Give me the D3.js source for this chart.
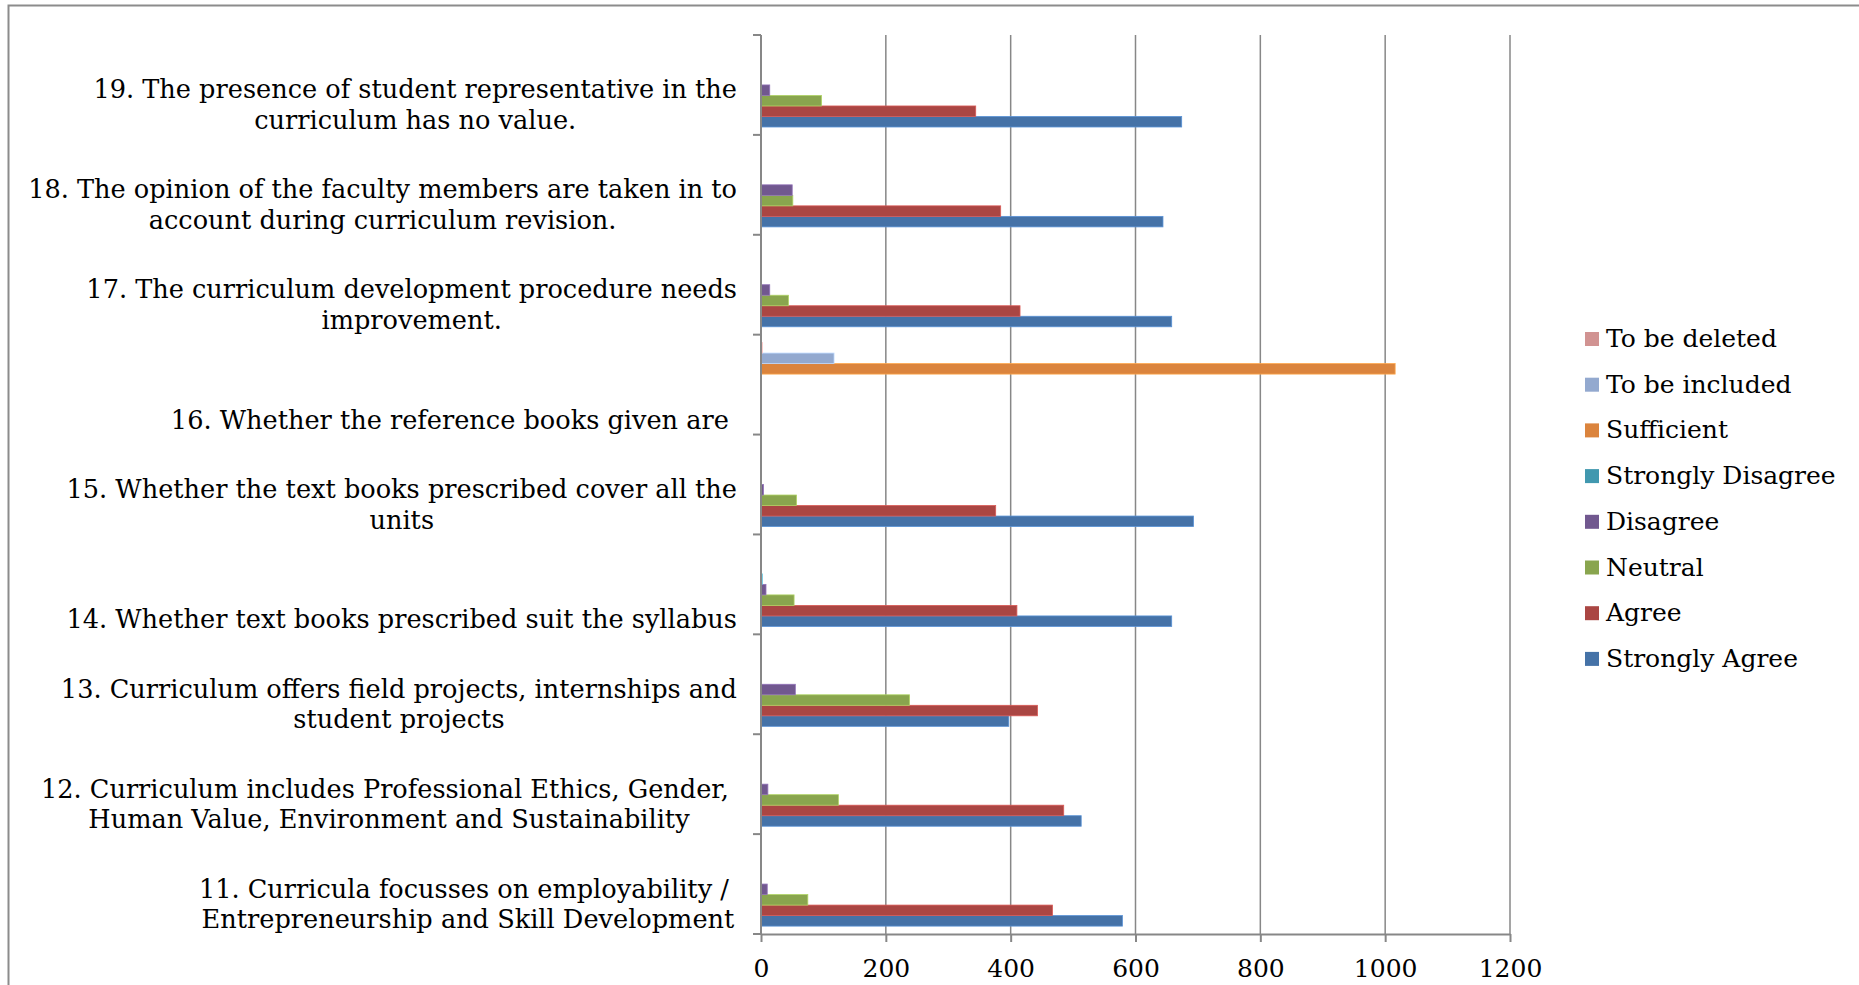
<!DOCTYPE html>
<html>
<head>
<meta charset="utf-8">
<script src="https://cdn.jsdelivr.net/npm/d3@7"></script>
<style>
  html, body { margin: 0; padding: 0; background: #fff; }
  svg { display: block; }
  text { font-family: "DejaVu Serif", "Liberation Serif", serif; fill: #000; }
</style>
</head>
<body>
<script>
// ---------- data ----------
const categories = ["Q11", "Q12", "Q13", "Q14", "Q15", "Q16", "Q17", "Q18", "Q19"];
const categoryLabels = [
  ["11. Curricula focusses on employability / ", "Entrepreneurship and Skill Development"],
  ["12. Curriculum includes Professional Ethics, Gender, ", "Human Value, Environment and Sustainability"],
  ["13. Curriculum offers field projects, internships and", "student projects"],
  ["14. Whether text books prescribed suit the syllabus"],
  ["15. Whether the text books prescribed cover all the", "units"],
  ["16. Whether the reference books given are "],
  ["17. The curriculum development procedure needs", "improvement."],
  ["18. The opinion of the faculty members are taken in to", "account during curriculum revision."],
  ["19. The presence of student representative in the", "curriculum has no value."]
];
const seriesNames = ["Strongly Agree", "Agree", "Neutral", "Disagree", "Strongly Disagree", "Sufficient", "To be included", "To be deleted"];
const stronglyAgree    = [579, 513, 397, 658, 693,    0, 658, 644, 674];
const agree            = [467, 485, 443, 410, 376,    0, 415, 384, 344];
const neutral          = [ 75, 124, 238,  53,  57,    0,  44,  51,  97];
const disagree         = [ 10,  11,  55,   8,   4,    0,  14,  50,  14];
const stronglyDisagree = [  0,   0,   0,   2,   0,    0,   0,   0,   0];
const sufficient       = [  0,   0,   0,   0,   0, 1016,   0,   0,   0];
const toBeIncluded     = [  0,   0,   0,   0,   0,  117,   0,   0,   0];
const toBeDeleted      = [  0,   0,   0,   0,   0,    2,   0,   0,   0];
const seriesValues = [stronglyAgree, agree, neutral, disagree, stronglyDisagree, sufficient, toBeIncluded, toBeDeleted];
const seriesColors = ["#4572A7", "#AA4643", "#89A54E", "#71588F", "#4198AF", "#DB843D", "#93A9CF", "#D19392"];
const xTicks = [0, 200, 400, 600, 800, 1000, 1200];

// ---------- layout ----------
const W = 1859, H = 985;
const plot = { left: 761, right: 1510, top: 35, bottom: 934 };
const gridColor = "#878787";

const svg = d3.select("body").append("svg").attr("width", W).attr("height", H);
svg.append("rect").attr("width", W).attr("height", H).attr("fill", "#fff");

// outer chart border (left and top visible)
svg.append("path")
  .attr("d", `M8.5,${H} L8.5,5.5 L${W},5.5`)
  .attr("fill", "none").attr("stroke", "#8c8c8c").attr("stroke-width", 2);

const x = d3.scaleLinear().domain([0, 1200]).range([plot.left, plot.right]);
const y0 = d3.scaleBand().domain(categories).range([plot.bottom, plot.top]).padding(0);
// series within a category slot: top-to-bottom order = reversed series order
const y1 = d3.scaleBand().domain(seriesNames.slice().reverse())
  .range([0, y0.bandwidth()]).paddingInner(0).paddingOuter(0.75);

// gridlines
svg.append("g").selectAll("line").data(xTicks.filter(d => d > 0)).join("line")
  .attr("x1", d => x(d)).attr("x2", d => x(d))
  .attr("y1", plot.top).attr("y2", plot.bottom)
  .attr("stroke", gridColor).attr("stroke-width", 1.5);

// bars
const barData = [];
seriesNames.forEach((s, si) => {
  categories.forEach((c, ci) => {
    barData.push({ series: s, cat: c, value: seriesValues[si][ci], color: seriesColors[si] });
  });
});
svg.append("g").selectAll("rect").data(barData.filter(d => d.value > 0)).join("rect")
  .attr("x", x(0))
  .attr("y", d => y0(d.cat) + y1(d.series))
  .attr("width", d => x(d.value) - x(0))
  .attr("height", y1.bandwidth())
  .attr("fill", d => d.color)
  .attr("stroke", d => d3.color(d.color).brighter(0.7))
  .attr("stroke-width", 0.8);

// vertical (category) axis line + boundary ticks
const boundaries = categories.map(c => y0(c)).concat([y0(categories[0]) + y0.bandwidth()]);
svg.append("line")
  .attr("x1", x(0)).attr("x2", x(0)).attr("y1", plot.top).attr("y2", plot.bottom)
  .attr("stroke", gridColor).attr("stroke-width", 2);
svg.append("g").selectAll("line").data(boundaries).join("line")
  .attr("x1", x(0) - 8).attr("x2", x(0))
  .attr("y1", d => d).attr("y2", d => d)
  .attr("stroke", gridColor).attr("stroke-width", 2);

// horizontal value axis
const xAxis = svg.append("g").attr("transform", `translate(0,${plot.bottom})`)
  .call(d3.axisBottom(x).tickValues(xTicks).tickSize(8).tickSizeOuter(0).tickFormat(d3.format("d")));
xAxis.select(".domain").attr("stroke", gridColor).attr("stroke-width", 2);
xAxis.selectAll(".tick line").attr("stroke", gridColor).attr("stroke-width", 2);
xAxis.selectAll(".tick text")
  .attr("y", 43).attr("dy", 0)
  .style("font-family", "'DejaVu Serif', serif").style("font-size", "25px").attr("fill", "#000");

// category labels: last line baseline below slot centre, lines centred in a right-aligned block
const labelRight = 737, lineH = 30.5;
const labelG = svg.append("g");
categories.forEach((c, ci) => {
  const lines = categoryLabels[ci];
  const centre = y0(c) + y0.bandwidth() / 2;
  const lastBase = centre + 44;
  const texts = lines.map((ln, li) => labelG.append("text")
    .attr("xml:space", "preserve")
    .style("white-space", "pre")
    .style("font-size", "25.6px")
    .attr("text-anchor", "middle")
    .attr("y", lastBase - (lines.length - 1 - li) * lineH)
    .text(ln));
  const maxW = d3.max(texts, t => t.node().getComputedTextLength());
  texts.forEach(t => t.attr("x", labelRight - maxW / 2));
});

// legend (reverse order: To be deleted at top)
const legendOrder = seriesNames.map((s, i) => i).reverse();
const legend = svg.append("g");
legendOrder.forEach((si, k) => {
  const cy = 339 + k * 45.7;
  legend.append("rect").attr("x", 1585).attr("y", cy - 7).attr("width", 14).attr("height", 14)
    .attr("fill", seriesColors[si]);
  legend.append("text").attr("x", 1606).attr("y", cy + 8)
    .style("font-size", "25px").text(seriesNames[si]);
});
</script>
</body>
</html>
